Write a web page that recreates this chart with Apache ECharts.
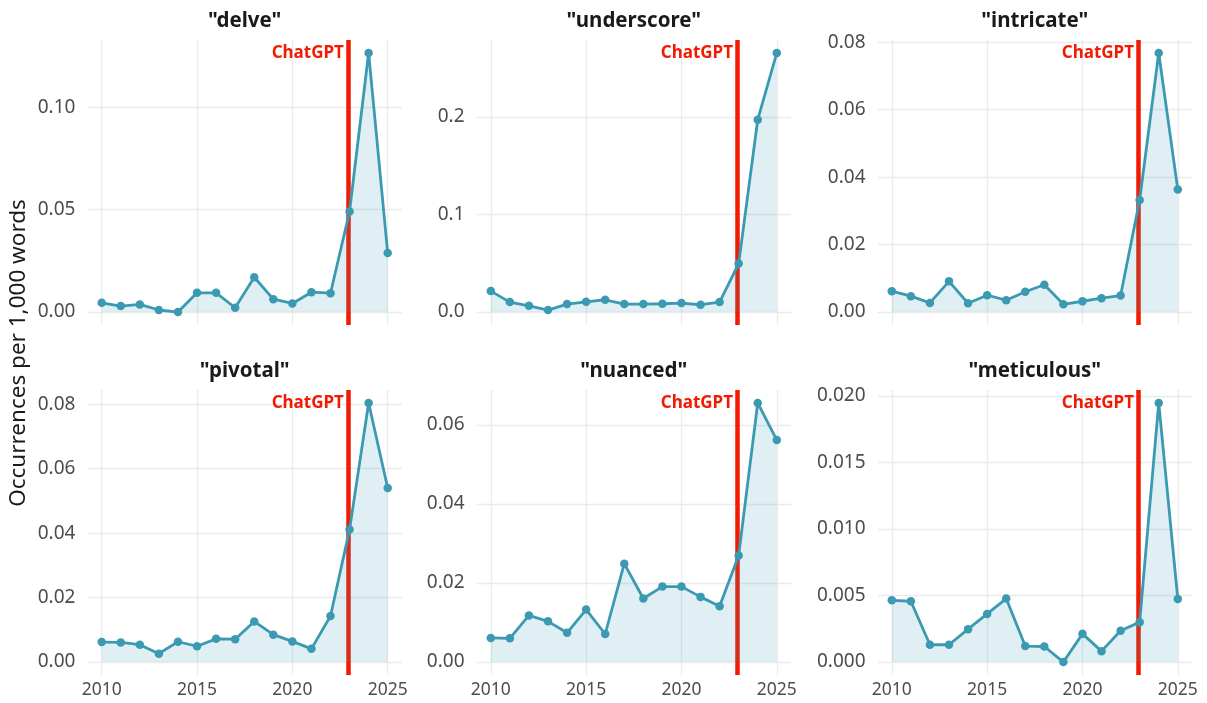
<!DOCTYPE html>
<html><head><meta charset="utf-8">
<script src="https://cdn.jsdelivr.net/npm/echarts@6/dist/echarts.min.js"></script>
<style>html,body{margin:0;padding:0;background:#fff}#c{width:1207px;height:703px}</style>
</head><body><div id="c"></div>
<script>
// ---- data ----
const years = [2010,2011,2012,2013,2014,2015,2016,2017,2018,2019,2020,2021,2022,2023,2024,2025];
const words = ['delve','underscore','intricate','pivotal','nuanced','meticulous'];
const delve      = [0.0045,0.0029,0.0037,0.0010,0.0000,0.0094,0.0094,0.0021,0.0170,0.0063,0.0042,0.0097,0.0092,0.0491,0.1265,0.0288];
const underscore = [0.0215,0.0102,0.0064,0.0020,0.0082,0.0105,0.0126,0.0082,0.0082,0.0085,0.0092,0.0075,0.0102,0.0497,0.1973,0.2658];
const intricate  = [0.0062,0.0047,0.0027,0.0091,0.0026,0.0050,0.0035,0.0060,0.0081,0.0023,0.0032,0.0041,0.0049,0.0332,0.0768,0.0363];
const pivotal    = [0.0062,0.0061,0.0054,0.0026,0.0063,0.0049,0.0072,0.0071,0.0126,0.0085,0.0064,0.0041,0.0143,0.0411,0.0804,0.0540];
const nuanced    = [0.0061,0.0060,0.0118,0.0103,0.0074,0.0133,0.0071,0.0249,0.0161,0.0191,0.0191,0.0165,0.0141,0.0270,0.0656,0.0562];
const meticulous = [0.00464,0.00457,0.00130,0.00130,0.00247,0.00362,0.00477,0.00120,0.00117,0.00000,0.00212,0.00082,0.00235,0.00300,0.01948,0.00474];
const seriesValues = [delve, underscore, intricate, pivotal, nuanced, meticulous];
const yTickLabels = [
  ['0.00','0.05','0.10'],
  ['0.0','0.1','0.2'],
  ['0.00','0.02','0.04','0.06','0.08'],
  ['0.00','0.02','0.04','0.06','0.08'],
  ['0.00','0.02','0.04','0.06'],
  ['0.000','0.005','0.010','0.015','0.020']
];
const xTickLabels = [2010, 2015, 2020, 2025];
const chatgptDate = 2022.91;
const yAxisTitle = 'Occurrences per 1,000 words';
const markerLabel = 'ChatGPT';

// ---- layout / style ----
const FONT = "'Noto Sans', 'Open Sans', sans-serif";
const colLeft = [87.4, 476.5, 877.5];
const rowTop = [40, 390];
const gw = 314.6, gh = 285;
const lineColor = '#3b9ab2', red = '#f21a00', gridColor = '#ebebeb', tickColor = '#4d4d4d';

const grids = [], xAxes = [], yAxes = [], series = [], graphics = [];
words.forEach((w, i) => {
  const r = Math.floor(i / 3), c = i % 3;
  const vals = seriesValues[i];
  const ymax = Math.max(...vals);
  const lo = -0.05 * ymax, hi = 1.05 * ymax;
  const ticks = yTickLabels[i].map(Number);
  const dec = yTickLabels[i][0].split('.')[1].length;
  grids.push({left: colLeft[c], top: rowTop[r], width: gw, height: gh, containLabel: false});
  xAxes.push({
    type: 'value', gridIndex: i, min: 2009.25, max: 2025.75,
    axisLine: {show: false},
    axisTick: {show: false, customValues: xTickLabels},
    axisLabel: {show: r === 1, customValues: xTickLabels, color: tickColor, fontSize: 17.5, fontFamily: FONT, margin: 6,
      formatter: v => String(v)},
    splitLine: {show: true, lineStyle: {color: gridColor, width: 1.3}}
  });
  yAxes.push({
    type: 'value', gridIndex: i, min: lo, max: hi,
    axisLine: {show: false},
    axisTick: {show: false, customValues: ticks},
    axisLabel: {customValues: ticks, color: tickColor, fontSize: 19, fontFamily: FONT, margin: 12,
      formatter: v => v.toFixed(dec)},
    splitLine: {show: true, lineStyle: {color: gridColor, width: 1.3}}
  });
  series.push({
    type: 'line', xAxisIndex: i, yAxisIndex: i, z: 2,
    data: years.map((y, k) => [y, vals[k]]),
    symbol: 'circle', symbolSize: 8.5, showSymbol: true,
    lineStyle: {color: lineColor, width: 2.8},
    itemStyle: {color: lineColor},
    areaStyle: {color: 'rgba(59,154,178,0.16)', opacity: 1},
    markLine: {
      silent: true, z: 1, symbol: ['none', 'none'], animation: false,
      label: {show: false},
      lineStyle: {color: red, width: 4.5, type: 'solid'},
      data: [{xAxis: chatgptDate}]
    },
    markPoint: {
      silent: true, z: 6, symbol: 'circle', symbolSize: 0, animation: false,
      label: {show: true, position: 'left', distance: 4, offset: [0, 13], formatter: markerLabel,
        color: red, fontWeight: 'bold', fontSize: 17, fontFamily: FONT},
      data: [{coord: [chatgptDate, hi]}]
    }
  });
  graphics.push({
    type: 'text', x: colLeft[c] + gw / 2, y: rowTop[r] - 19,
    style: {text: '"' + w + '"', align: 'center', verticalAlign: 'middle', textAlign: 'center', textVerticalAlign: 'middle',
      font: 'bold 20.5px ' + FONT, fill: '#1a1a1a'}
  });
});
graphics.push({
  type: 'text', x: 19, y: 353, rotation: Math.PI / 2,
  style: {text: yAxisTitle, align: 'center', verticalAlign: 'middle', textAlign: 'center', textVerticalAlign: 'middle',
    font: '22.5px ' + FONT, fill: '#1a1a1a'}
});

const chart = echarts.init(document.getElementById('c'), null, {renderer: 'canvas'});
chart.setOption({
  animation: false,
  backgroundColor: '#ffffff',
  grid: grids, xAxis: xAxes, yAxis: yAxes, series: series,
  graphic: graphics
});
</script></body></html>
